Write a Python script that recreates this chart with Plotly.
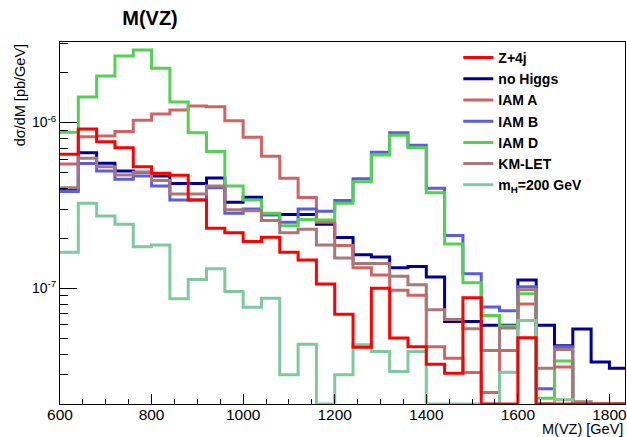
import plotly.graph_objects as go

# ---- data (values in units of 1e-7 pb/GeV, 40 GeV bins) ----
bin_edges = [600, 640, 680, 720, 760, 800, 840, 880, 920, 960, 1000, 1040, 1080,
             1120, 1160, 1200, 1240, 1280, 1320, 1360, 1400, 1440, 1480, 1520,
             1560, 1600, 1640, 1680, 1720, 1760, 1800, 1840]
SCALE = 1e-7

z4j = [6.43, 9.14, 7.66, 7.05, 5.41, 4.94, 4.80, 3.41, 2.30, 2.16, 1.91, 2.03,
       1.65, 1.48, 1.06, 0.695, 0.44, 1.00, 0.50, 0.443, 0.347, 0.307, 0.877,
       0, 0, 0.502, 0, 0, 0, 0, 0]
no_higgs = [3.94, 6.57, 5.68, 5.10, 5.01, 4.76, 4.29, 4.29, 4.63, 3.30, 3.54,
            2.78, 2.78, 2.78, 2.43, 2.02, 1.59, 1.54, 1.33, 1.35, 1.17, 0.629,
            0.629, 0.597, 0.597, 1.12, 0.598, 0.449, 0.568, 0.359, 0.329]
iam_a = [5.62, 8.21, 8.29, 8.83, 10.3, 11.25, 11.9, 12.57, 12.45, 10.24, 8.14,
         6.25, 4.60, 3.52, 2.50, 1.81, 1.33, 1.20, 0.97, 0.905, 0.443, 0.378,
         0.31, 0.235, 0.42, 0.804, 0, 0.335, 0, 0, 0]
iam_b = [3.83, 5.66, 5.10, 4.54, 4.76, 4.14, 3.41, 3.41, 4.04, 2.83, 3.00, 2.76,
         2.50, 3.01, 2.91, 3.38, 4.58, 6.61, 8.68, 7.29, 4.01, 2.08, 1.22, 0.771,
         0.730, 1.02, 0.247, 0.443, 0, 0, 0]
iam_d = [8.73, 14.25, 19.07, 25.18, 27.36, 21.22, 13.29, 8.68, 6.67, 4.14, 3.41,
         2.83, 2.38, 2.60, 2.58, 3.26, 4.39, 6.37, 8.37, 7.05, 3.77, 1.85, 1.08,
         0.683, 0.592, 0.924, 0.217, 0.364, 0, 0, 0]
km_let = [4.04, 6.08, 5.41, 4.82, 5.01, 4.46, 3.70, 3.70, 4.14, 2.97, 2.93, 2.56,
          2.16, 2.27, 1.82, 1.52, 1.41, 1.41, 1.18, 1.05, 0.740, 0.647, 0.570,
          0.420, 0.576, 0.977, 0.329, 0.426, 0.206, 0, 0]
m_h200 = [1.65, 3.26, 2.73, 2.43, 1.78, 1.82, 0.862, 1.13, 1.31, 0.954, 0.768,
          0.868, 0.300, 0.459, 0, 0.300, 0.455, 0.415, 0.314, 0.415, 0, 0, 0, 0,
          0.311, 0.639, 0, 0.212, 0, 0, 0]

series_names = ["Z+4j", "no Higgs", "IAM A", "IAM B", "IAM D", "KM-LET",
                "m<sub>H</sub>=200 GeV"]
series_values = [z4j, no_higgs, iam_a, iam_b, iam_d, km_let, m_h200]
series_colors = ["#ff0000", "#000099", "#d06464", "#5c5ce0", "#55d055",
                 "#a87878", "#80c8a0"]
draw_order = [1, 2, 3, 4, 5, 6, 0]   # red drawn last (on top)

y_ticks = [1e-7, 1e-6]
y_tick_text = ["10<sup>-7</sup>", "10<sup>-6</sup>"]
x_ticks = [600, 800, 1000, 1200, 1400, 1600, 1800]

YMIN, YMAX = 2.0e-8, 3.06e-6
XMIN, XMAX = 600, 1834

FONT = "Liberation Sans"

fig = go.Figure()
for idx in draw_order:
    vals = series_values[idx]
    # like ROOT on a log axis: empty bins are drawn on the lower frame edge
    ys = [v * SCALE if v > 0 else YMIN for v in vals]
    ys = ys + [ys[-1]]
    fig.add_trace(go.Scatter(
        x=bin_edges, y=ys, mode="lines", line_shape="hv",
        line=dict(color=series_colors[idx], width=3),
        name=series_names[idx], legendrank=idx + 1,
        hoverinfo="skip"))

minor_y = [m * 10.0 ** e for e in (-8, -7, -6) for m in range(2, 10)
           if YMIN <= m * 10.0 ** e <= YMAX]

fig.update_layout(
    width=627, height=437,
    margin=dict(l=60, r=2, t=42, b=33),
    paper_bgcolor="white", plot_bgcolor="white",
    font=dict(family=FONT, color="black"),
    title=dict(text="<b>M(VZ)</b>", x=150 / 627, xref="container", xanchor="center",
               y=1 - 18 / 437, yref="container", yanchor="middle",
               font=dict(family=FONT, size=20, color="black")),
    legend=dict(x=0.705, y=1.0, xanchor="left", yanchor="top",
                bgcolor="rgba(0,0,0,0)", borderwidth=0,
                font=dict(family=FONT, size=14, color="black", weight="bold"),
                tracegroupgap=0, itemwidth=30),
    showlegend=True,
)

fig.update_xaxes(
    range=[XMIN, XMAX], showgrid=False, zeroline=False, automargin=False,
    showline=True, linecolor="black", linewidth=1, mirror=True,
    ticks="inside", ticklen=10, tickwidth=1, tickcolor="black",
    tickvals=x_ticks, ticktext=[str(t) for t in x_ticks],
    ticklabeloverflow="allow", ticklabelstandoff=-4,
    tickfont=dict(family=FONT, size=15.5, color="black"),
    minor=dict(dtick=50, ticks="inside", ticklen=5, tickwidth=1, tickcolor="black",
               showgrid=False),
)
fig.update_yaxes(
    type="log", range=[-7.69897, -5.5143], showgrid=False, zeroline=False,
    automargin=False,
    showline=True, linecolor="black", linewidth=1, mirror=True,
    ticks="inside", ticklen=17, tickwidth=1, tickcolor="black",
    tickvals=y_ticks, ticktext=y_tick_text,
    tickfont=dict(family=FONT, size=14, color="black"),
    minor=dict(tickvals=minor_y, ticks="inside", ticklen=8, tickwidth=1,
               tickcolor="black", showgrid=False),
)

fig.add_annotation(text="M(VZ) [GeV]", xref="paper", yref="paper",
                   x=1.0, y=0, xanchor="right", yanchor="top", yshift=-15,
                   showarrow=False, font=dict(family=FONT, size=14.5, color="black"))
fig.add_annotation(text="dσ/dM [pb/GeV]", xref="paper", yref="paper",
                   x=-0.0717, y=0.854, xanchor="center", yanchor="middle",
                   textangle=-90, showarrow=False,
                   font=dict(family=FONT, size=14.5, color="black"))

fig.write_html("out.html",
               config={"displayModeBar": False},
               post_script="document.body.style.margin='0';"
                           "document.body.style.overflow='hidden';")
